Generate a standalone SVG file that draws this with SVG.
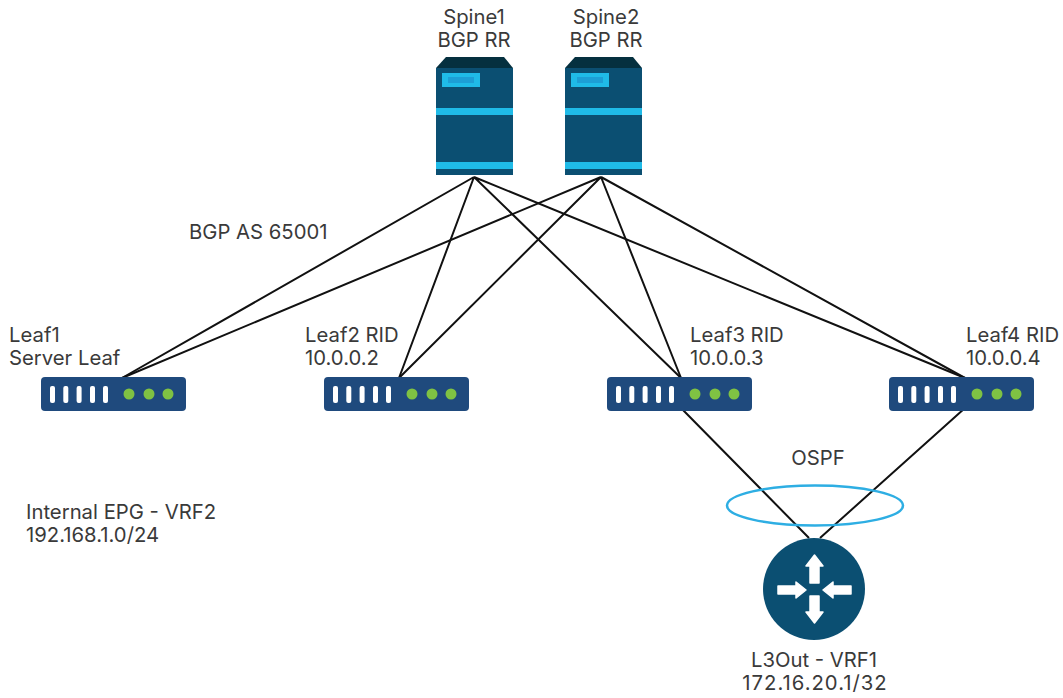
<svg xmlns="http://www.w3.org/2000/svg" width="1063" height="698" viewBox="0 0 1063 698">
<defs>
<style>
text{font-family:"Inter","Liberation Sans",sans-serif;font-size:20.3px;fill:#3a3a3a}
.c{stroke:#111;stroke-width:2;fill:none}
.m{text-anchor:middle}
.body{fill:#0b4f72}.top{fill:#05303f}.hl{fill:#1fbbe8}.hl2{fill:#1d9fd6}
.leaf{fill:#1f4a7d}.port{fill:#fff}.led{fill:#7fc243}
.arrow{fill:#fff;stroke:#fff;stroke-width:1.500;stroke-linejoin:round}
</style>
<g id="spine-icon">
<path class="top" d="M0 11L10 0H68L77 11Z"/>
<rect class="body" y="11" width="77" height="107"/>
<rect class="hl" x="6" y="16" width="38" height="14"/>
<rect class="hl2" x="12" y="20" width="26" height="6"/>
<rect class="hl" y="51" width="77" height="7"/>
<rect class="hl" y="105" width="77" height="7"/>
</g>
<g id="leaf-icon">
<rect class="leaf" width="145" height="34" rx="4"/>
<rect class="port" x="9" y="9" width="5" height="17" rx="2"/>
<rect class="port" x="22.300" y="9" width="5" height="17" rx="2"/>
<rect class="port" x="35.600" y="9" width="5" height="17" rx="2"/>
<rect class="port" x="49" y="9" width="5" height="17" rx="2"/>
<rect class="port" x="62" y="9" width="5" height="17" rx="2"/>
<circle class="led" cx="88" cy="17" r="5.500"/>
<circle class="led" cx="108" cy="17" r="5.500"/>
<circle class="led" cx="127" cy="17" r="5.500"/>
</g>
</defs>
<rect width="1063" height="698" fill="#fff"/>
<g id="connectors">
<path class="c" d="M474 177L122 378M474 177L399 378M474 177L681 378M474 177L965 378"/>
<path class="c" d="M601 177L122 378M601 177L399 378M601 177L681 378M601 177L965 378"/>
<path class="c" d="M681 408L809 538M965 408L820 538"/>
</g>
<g id="ospf"><ellipse cx="815" cy="505.500" rx="88" ry="20" fill="none" stroke="#2eaee3" stroke-width="2.500"/><text class="m" x="818" y="465">OSPF</text></g>
<text x="189" y="239">BGP AS 65001</text>
<g id="spine1"><text class="m" x="474" y="24">Spine1</text><text class="m" x="474" y="47">BGP RR</text><use href="#spine-icon" x="436" y="57"/></g>
<g id="spine2"><text class="m" x="606" y="24">Spine2</text><text class="m" x="606" y="47">BGP RR</text><use href="#spine-icon" x="565" y="57"/></g>
<g id="leaf1"><text x="9" y="342">Leaf1</text><text x="9" y="365">Server Leaf</text><use href="#leaf-icon" x="41" y="377"/></g>
<g id="leaf2"><text x="305" y="342">Leaf2 RID</text><text x="305" y="365">10.0.0.2</text><use href="#leaf-icon" x="324" y="377"/></g>
<g id="leaf3"><text x="690" y="342">Leaf3 RID</text><text x="690" y="365">10.0.0.3</text><use href="#leaf-icon" x="607" y="377"/></g>
<g id="leaf4"><text x="966" y="342">Leaf4 RID</text><text x="966" y="365">10.0.0.4</text><use href="#leaf-icon" x="889" y="377"/></g>
<g id="epg"><text x="26" y="519">Internal EPG - VRF2</text><text x="26" y="542">192.168.1.0/24</text></g>
<g id="router">
<circle class="body" cx="814" cy="589" r="51"/>
<path class="arrow" d="M814.500 555L823 566H819V583H810V566H806Z"/>
<path class="arrow" d="M814.500 623L823 612H819V596H810V612H806Z"/>
<path class="arrow" d="M806 590L796 582V586H778V594H796V598Z"/>
<path class="arrow" d="M823 590L833 582V586H851V594H833V598Z"/>
<text class="m" x="814" y="667">L3Out - VRF1</text>
<text class="m" x="815" y="690" letter-spacing="1">172.16.20.1/32</text>
</g>
</svg>
